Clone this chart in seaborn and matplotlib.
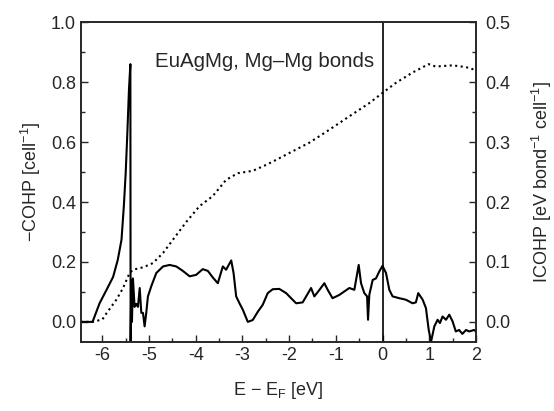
import matplotlib
matplotlib.use("Agg")
import matplotlib.pyplot as plt
from matplotlib.ticker import MultipleLocator
import seaborn as sns
import pandas as pd

# -COHP (left axis)
cohp_e = [-6.46, -6.21, -6.06, -5.91, -5.77, -5.67, -5.59, -5.54, -5.50, -5.465,
          -5.43, -5.40, -5.395, -5.38, -5.366, -5.345, -5.31, -5.273, -5.238, -5.20,
          -5.166, -5.13, -5.095, -5.06, -5.024, -4.95, -4.845, -4.70, -4.56, -4.417,
          -4.276, -4.13, -3.99, -3.85, -3.74, -3.634, -3.527, -3.42, -3.35, -3.24,
          -3.19, -3.134, -3.063, -2.99, -2.885, -2.78, -2.67, -2.565, -2.458, -2.35,
          -2.21, -2.064, -1.85, -1.71, -1.53, -1.46, -1.35, -1.245, -1.174, -1.07,
          -0.924, -0.71, -0.603, -0.51, -0.46, -0.39, -0.33, -0.31, -0.283, -0.21,
          -0.14, -0.07, 0.0, 0.075, 0.146, 0.216, 0.36, 0.5, 0.644, 0.715,
          0.766, 0.86, 0.93, 0.99, 1.04, 1.11, 1.18, 1.23, 1.286, 1.36,
          1.43, 1.5, 1.57, 1.64, 1.71, 1.79, 1.857, 1.96, 2.0]
cohp_v = [0.0, 0.0, 0.062, 0.107, 0.15, 0.207, 0.274, 0.386, 0.498, 0.63,
          0.776, 0.86, -0.07, 0.14, 0.0, 0.145, 0.05, 0.06, 0.05, 0.113,
          0.03, 0.03, -0.015, 0.03, 0.085, 0.12, 0.163, 0.185, 0.19, 0.185,
          0.17, 0.152, 0.157, 0.176, 0.17, 0.148, 0.129, 0.185, 0.174, 0.205,
          0.163, 0.085, 0.062, 0.04, 0.0, 0.006, 0.034, 0.057, 0.096, 0.109,
          0.11, 0.096, 0.062, 0.065, 0.113, 0.085, 0.107, 0.129, 0.107, 0.079,
          0.09, 0.113, 0.107, 0.19, 0.129, 0.096, 0.085, 0.007, 0.09, 0.14,
          0.145, 0.168, 0.187, 0.163, 0.107, 0.085, 0.079, 0.074, 0.062, 0.065,
          0.096, 0.074, 0.046, -0.027, -0.066, -0.015, 0.007, -0.004, 0.018, 0.007,
          0.024, 0.002, -0.032, -0.027, -0.04, -0.027, -0.032, -0.027, -0.032]

# ICOHP (right axis)
icohp_e = [-6.46, -6.21, -6.0, -5.91, -5.70, -5.56, -5.42, -5.345, -5.13, -4.918,
           -4.70, -4.49, -4.20, -3.92, -3.634, -3.35, -3.10, -2.78, -2.49, -2.21,
           -1.99, -1.566, -1.13, -0.71, -0.283, 0.0, 0.29, 0.644, 0.987, 1.14,
           1.5, 1.79, 2.0]
icohp_v = [0.0, 0.0, 0.004, 0.0145, 0.037, 0.056, 0.081, 0.087, 0.091, 0.098,
           0.115, 0.137, 0.167, 0.193, 0.21, 0.237, 0.248, 0.252, 0.262, 0.273,
           0.282, 0.299, 0.321, 0.343, 0.365, 0.382, 0.399, 0.416, 0.43, 0.426,
           0.428, 0.425, 0.42]

x_ticks = [-6, -5, -4, -3, -2, -1, 0, 1, 2]

sns.set_style("ticks")
plt.rcParams['font.family'] = ['Liberation Sans', 'DejaVu Sans']
plt.rcParams['mathtext.fontset'] = 'custom'
plt.rcParams['mathtext.rm'] = 'Liberation Sans'
plt.rcParams['mathtext.it'] = 'Liberation Sans'

df1 = pd.DataFrame({'E': cohp_e, 'v': cohp_v})
df2 = pd.DataFrame({'E': icohp_e, 'v': icohp_v})

fig = plt.figure(figsize=(5.54, 4.11), dpi=100)
ax = fig.add_axes([0.146, 0.168, 0.713, 0.778])
ax2 = ax.twinx()

sns.lineplot(data=df1, x='E', y='v', ax=ax, color='black', linewidth=1.5,
             sort=False, estimator=None)
sns.lineplot(data=df2, x='E', y='v', ax=ax2, color='black', linewidth=1.5,
             linestyle=':', sort=False, estimator=None)
ax.axvline(0, color='black', linewidth=1.2)

ax.set_xlim(-6.46, 2.0)
ax.set_ylim(-0.067, 1.0)
ax2.set_ylim(-0.0335, 0.5)

ax.set_xticks(x_ticks)
ax.set_xticklabels([str(t) for t in x_ticks])
ax.xaxis.set_minor_locator(MultipleLocator(0.5))
ax.yaxis.set_major_locator(MultipleLocator(0.2))
ax.yaxis.set_minor_locator(MultipleLocator(0.1))
ax2.yaxis.set_major_locator(MultipleLocator(0.1))
ax2.yaxis.set_minor_locator(MultipleLocator(0.05))
ax.yaxis.set_major_formatter(plt.FormatStrFormatter('%.1f'))
ax2.yaxis.set_major_formatter(plt.FormatStrFormatter('%.1f'))

for a in (ax, ax2):
    a.tick_params(which='both', direction='in', labelsize=13, width=1.0)
    a.tick_params(which='major', length=5)
    a.tick_params(which='minor', length=3)
    for s in a.spines.values():
        s.set_linewidth(1.2)
        s.set_visible(True)
ax.tick_params(which='both', top=False, right=False)
ax2.tick_params(which='major', pad=7)

ax.set_xlabel(r'E $-$ E$_{\mathrm{F}}$ [eV]', fontsize=13, labelpad=12)
ax.set_ylabel(r'$-$COHP [cell$^{-1}$]', fontsize=13, labelpad=6)
ax2.set_ylabel(r'ICOHP [eV bond$^{-1}$ cell$^{-1}$]', fontsize=13, labelpad=14)

ax.text(-4.88, 0.87, 'EuAgMg, Mg\u2013Mg bonds', fontsize=14.8, ha='left', va='center')

fig.savefig('out.png', dpi=100)
